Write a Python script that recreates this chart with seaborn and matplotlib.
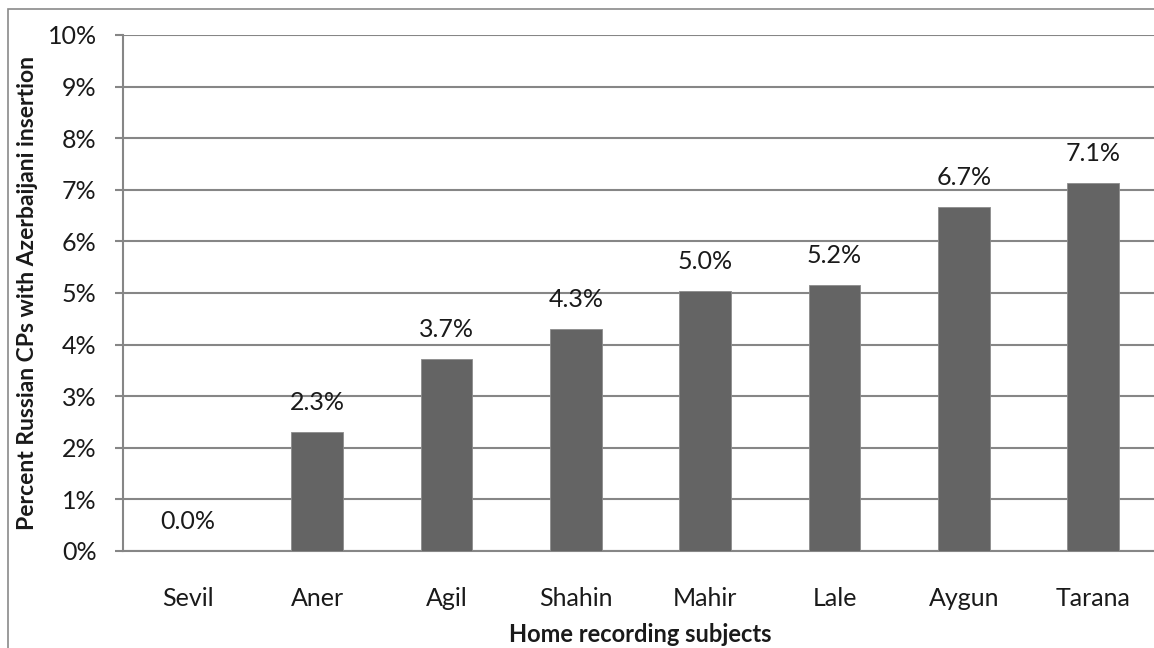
import matplotlib
matplotlib.use("Agg")
import matplotlib.pyplot as plt
from matplotlib.patches import Rectangle
from matplotlib.ticker import MultipleLocator, FuncFormatter
import seaborn as sns
import pandas as pd

# Share of Russian clauses with an Azerbaijani insertion, per subject (%)
subjects = ["Sevil", "Aner", "Agil", "Shahin", "Mahir", "Lale", "Aygun", "Tarana"]
percent_insertion = [0.0, 2.30, 3.72, 4.30, 5.04, 5.16, 6.67, 7.14]

y_label = "Percent Russian CPs with Azerbaijani insertion"
x_label = "Home recording subjects"

sns.set_theme(style="white")
plt.rcParams["font.family"] = ["Lato", "DejaVu Sans"]

W, H = 1154, 648
fig = plt.figure(figsize=(W / 100, H / 100), dpi=100)
fig.patch.set_facecolor("white")

# chart frame (extends past the right and bottom edges)
fig.patches.append(Rectangle((8 / W, -0.5), 2.0, (1 - 9 / H) + 0.5,
                             transform=fig.transFigure, fill=False,
                             edgecolor="#8a8a8a", linewidth=1.2, zorder=0))

ax = fig.add_axes([123 / W, 1 - 551 / H, 1035 / W, 516 / H])
ax.set_facecolor("none")

df = pd.DataFrame({"subject": subjects, "pct": percent_insertion})
sns.barplot(data=df, x="subject", y="pct", order=subjects, color="#646464",
            saturation=1, width=0.40, edgecolor="#8c8c8c", linewidth=0.6,
            ax=ax, zorder=3)

ax.set_ylim(0, 10)
ax.set_xlim(-0.5, len(subjects) - 0.5)
ax.yaxis.set_major_locator(MultipleLocator(1))
ax.yaxis.set_major_formatter(FuncFormatter(lambda v, p: f"{v:.0f}%"))
ax.grid(axis="y", color="#868686", linewidth=1.5, zorder=0)
ax.grid(axis="x", visible=False)

for s in ["top", "right"]:
    ax.spines[s].set_visible(False)
for s in ["left", "bottom"]:
    ax.spines[s].set_color("#868686")
    ax.spines[s].set_linewidth(1.5)

ax.tick_params(axis="y", which="major", left=True, length=6, width=1.5,
               color="#868686", labelsize=18, labelcolor="#1a1a1a", pad=13)
ax.tick_params(axis="x", bottom=False, labelsize=18, labelcolor="#1a1a1a", pad=20)

for i, v in enumerate(percent_insertion):
    ax.annotate(f"{v:.1f}%", (i, v), xytext=(0, 13), textcoords="offset points",
                ha="center", va="bottom", fontsize=18, color="#1a1a1a", zorder=4)

ax.set_xlabel(x_label, fontsize=17, fontweight="bold", color="#1a1a1a")
ax.set_ylabel(y_label, fontsize=16.5, fontweight="bold", color="#1a1a1a")
ax.xaxis.set_label_coords(0.5, -83 / 516)
ax.yaxis.set_label_coords(-95 / 1035, 0.5)
ax.yaxis.label.set_va("center")
ax.xaxis.label.set_va("center")

fig.savefig("out.png", dpi=100, facecolor="white")
